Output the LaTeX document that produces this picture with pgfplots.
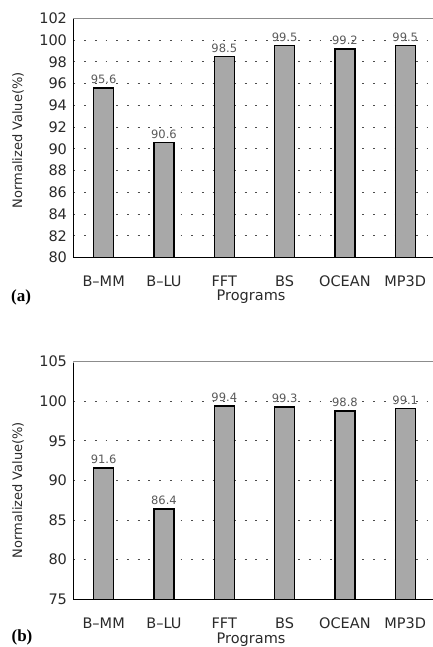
\documentclass[border=0pt]{standalone}
\usepackage{pgfplots}
\pgfplotsset{compat=1.18}
\usepackage{fontspec}
\setmainfont{DejaVu Sans}
\newfontfamily\labfont{Liberation Serif}
\definecolor{barfill}{HTML}{A8A8A8}
\definecolor{txt}{HTML}{2A2A2A}
\pgfplotsset{
  mybar/.style={draw=black, fill=barfill, line width=1.5pt},
  myaxis/.style={
    scale only axis,
    width=359.5pt,
    anchor=south west,
    xmin=-0.5, xmax=5.46,
    ybar, bar width=20pt,
    axis x line*=bottom, axis y line*=left,
    axis line style={-, black, line width=1.4pt},
    xtick={0,1,2,3,4,5},
    xticklabels={B--MM,B--LU,FFT,BS,OCEAN,MP3D},
    major x tick style={draw=none},
    extra x ticks={0.5,1.5,2.5,3.5,4.5},
    extra x tick labels={},
    extra x tick style={major tick length=4pt, tick style={black, line width=0.9pt}, grid=none},
    ytick style={draw=none},
    ymajorgrids,
    grid style={black!70, line width=1.1pt, dash pattern=on 1.8pt off 8.9pt},
    /pgf/number format/assume math mode=true,
    tick label style={font=\fontsize{14.5}{16}\selectfont, text=txt},
    yticklabel style={xshift=-3pt},
    xticklabel style={anchor=base, inner sep=0pt, yshift=-25pt},
    label style={text=txt},
    xlabel={Programs},
    xlabel style={at={(axis description cs:0.494,0)}, anchor=base, inner sep=0pt, font=\fontsize{14.5}{16}\selectfont},
    ylabel={Normalized Value(\%)},
    ylabel style={anchor=center, font=\fontsize{13}{15}\selectfont},
    nodes near coords,
    nodes near coords style={font=\fontsize{11.5}{13}\selectfont, text=black!65, /pgf/number format/.cd, fixed, fixed zerofill, precision=1},
  }
}
\begin{document}
\begin{tikzpicture}
\path[use as bounding box, clip] (0,0) rectangle (433pt,647pt);
% (a)
\begin{axis}[myaxis,
  at={(73.5pt,389.3pt)}, height=239.4pt,
  ymin=80, ymax=102, ytick={80,82,...,102},
  xlabel style={yshift=-42.5pt},
  ylabel style={at={(axis description cs:-0.1544,0.49)}},
]
\addplot[mybar] coordinates {(0,95.6) (1,90.6) (2,98.5) (3,99.5) (4,99.2) (5,99.5)};
\draw[white, line width=2.2pt] (rel axis cs:0,1) -- (rel axis cs:1,1);
\draw[black!45, line width=1pt] (rel axis cs:0,1) -- (rel axis cs:1,1);
\end{axis}
\node[font=\labfont\bfseries\fontsize{17}{18}\selectfont, anchor=center] at (21pt,350pt) {(a)};
% (b)
\begin{axis}[myaxis,
  at={(73.5pt,47.7pt)}, height=237.6pt,
  ymin=75, ymax=105, ytick={75,80,...,105},
  xlabel style={yshift=-44.5pt},
  ylabel style={at={(axis description cs:-0.1544,0.46)}},
]
\addplot[mybar] coordinates {(0,91.6) (1,86.4) (2,99.4) (3,99.3) (4,98.8) (5,99.1)};
\draw[white, line width=2.2pt] (rel axis cs:0,1) -- (rel axis cs:1,1);
\draw[black!45, line width=1pt] (rel axis cs:0,1) -- (rel axis cs:1,1);
\end{axis}
\node[font=\labfont\bfseries\fontsize{17}{18}\selectfont, anchor=center] at (22pt,10pt) {(b)};
\end{tikzpicture}
\end{document}
